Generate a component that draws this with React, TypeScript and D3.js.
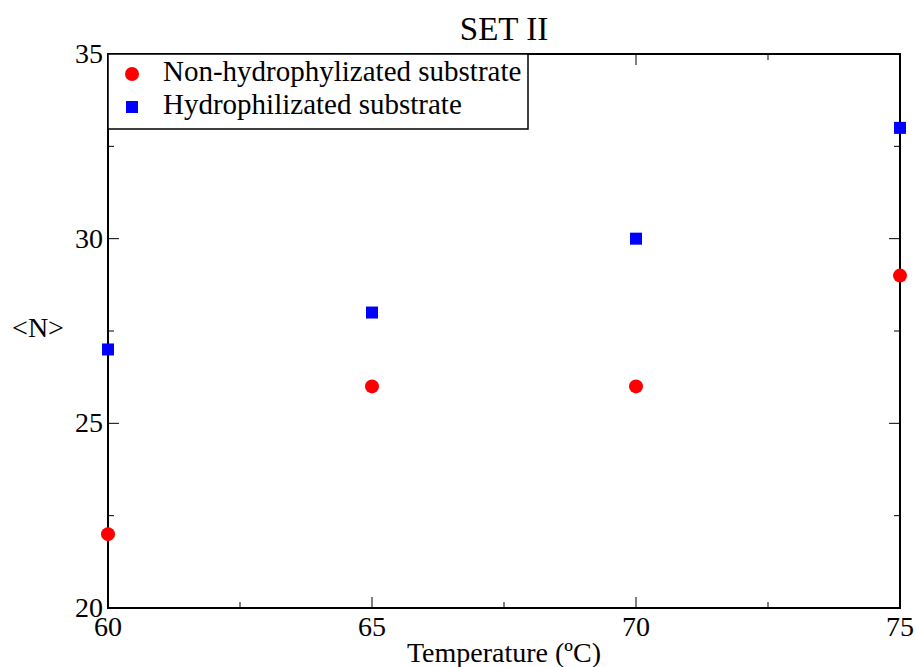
import React from "react";
import * as d3 from "d3";

const temperatures = [60, 65, 70, 75];
const nonHydro = [22, 26, 26, 29];
const hydro = [27, 28, 30, 33];
const xTicks = [60, 65, 70, 75];
const yTicks = [20, 25, 30, 35];
const xMinor = [62.5, 67.5, 72.5];
const yMinor = [22.5, 27.5, 32.5];

export default function App() {
  const W = 916, H = 667;
  const m = { l: 108, r: 900, t: 54, b: 608 };
  const x = d3.scaleLinear().domain([60, 75]).range([m.l, m.r]);
  const y = d3.scaleLinear().domain([20, 35]).range([m.b, m.t]);
  const font = "'Liberation Serif', 'Times New Roman', serif";
  const sq = 12;
  return (
    <svg width={W} height={H} style={{ position: "absolute", left: 0, top: 0 }}>
      <rect x={0} y={0} width={W} height={H} fill="white" />
      <text x={504} y={40} textAnchor="middle" fontFamily={font} fontSize={33}>SET II</text>
      {/* ticks */}
      {xTicks.map((t) => (
        <g key={"xt" + t}>
          <line x1={x(t)} x2={x(t)} y1={m.b} y2={m.b - 11} stroke="black" strokeWidth={1} />
          <line x1={x(t)} x2={x(t)} y1={m.t} y2={m.t + 11} stroke="black" strokeWidth={1} />
          <text x={x(t)} y={636} textAnchor="middle" fontFamily={font} fontSize={28}>{t}</text>
        </g>
      ))}
      {xMinor.map((t) => (
        <g key={"xm" + t}>
          <line x1={x(t)} x2={x(t)} y1={m.b} y2={m.b - 6} stroke="black" strokeWidth={1} />
          <line x1={x(t)} x2={x(t)} y1={m.t} y2={m.t + 6} stroke="black" strokeWidth={1} />
        </g>
      ))}
      {yTicks.map((t) => (
        <g key={"yt" + t}>
          <line x1={m.l} x2={m.l + 11} y1={y(t)} y2={y(t)} stroke="black" strokeWidth={1} />
          <line x1={m.r} x2={m.r - 11} y1={y(t)} y2={y(t)} stroke="black" strokeWidth={1} />
          <text x={103} y={y(t) + 9} textAnchor="end" fontFamily={font} fontSize={28}>{t}</text>
        </g>
      ))}
      {yMinor.map((t) => (
        <g key={"ym" + t}>
          <line x1={m.l} x2={m.l + 6} y1={y(t)} y2={y(t)} stroke="black" strokeWidth={1} />
          <line x1={m.r} x2={m.r - 6} y1={y(t)} y2={y(t)} stroke="black" strokeWidth={1} />
        </g>
      ))}
      <rect x={m.l} y={m.t} width={m.r - m.l} height={m.b - m.t} fill="none" stroke="black" strokeWidth={2} />
      <text x={504} y={662} textAnchor="middle" fontFamily={font} fontSize={28}>Temperature (ºC)</text>
      <text x={38} y={337} textAnchor="middle" fontFamily={font} fontSize={28}>&lt;N&gt;</text>
      {/* data */}
      {temperatures.map((t, i) => (
        <circle key={"c" + t} cx={x(t)} cy={y(nonHydro[i])} r={7} fill="#ff0000" />
      ))}
      {temperatures.map((t, i) => (
        <rect key={"s" + t} x={x(t) - sq / 2} y={y(hydro[i]) - sq / 2} width={sq} height={sq} fill="#0000ff" />
      ))}
      {/* legend */}
      <rect x={m.l} y={m.t} width={420} height={75} fill="white" stroke="black" strokeWidth={1.5} />
      <circle cx={132} cy={74} r={7} fill="#ff0000" />
      <text x={163} y={81} fontFamily={font} fontSize={29}>Non-hydrophylizated substrate</text>
      <rect x={132 - 6} y={107 - 6} width={12} height={12} fill="#0000ff" />
      <text x={163} y={114} fontFamily={font} fontSize={29}>Hydrophilizated substrate</text>
    </svg>
  );
}
